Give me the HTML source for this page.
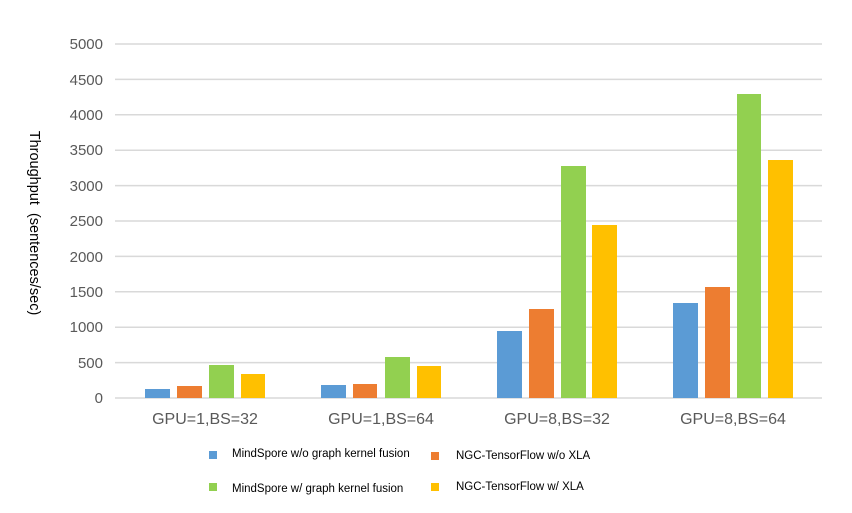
<!DOCTYPE html>
<html><head><style>
body{margin:0;background:#fff;}
svg{display:block;font-family:"Liberation Sans",sans-serif;}
</style></head><body>
<svg width="852" height="513" viewBox="0 0 852 513">
<rect width="852" height="513" fill="#fff"/>
<g stroke="#d9d9d9" stroke-width="1.5">
<line x1="115" x2="822" y1="44" y2="44"/>
<line x1="115" x2="822" y1="79.4" y2="79.4"/>
<line x1="115" x2="822" y1="114.8" y2="114.8"/>
<line x1="115" x2="822" y1="150.2" y2="150.2"/>
<line x1="115" x2="822" y1="185.6" y2="185.6"/>
<line x1="115" x2="822" y1="221" y2="221"/>
<line x1="115" x2="822" y1="256.4" y2="256.4"/>
<line x1="115" x2="822" y1="291.8" y2="291.8"/>
<line x1="115" x2="822" y1="327.2" y2="327.2"/>
<line x1="115" x2="822" y1="362.6" y2="362.6"/>
<line x1="115" x2="822" y1="398" y2="398"/>
</g>
<g fill="#595959" font-size="15" text-anchor="end">
<text x="103" y="49">5000</text><text x="103" y="85">4500</text><text x="103" y="120">4000</text>
<text x="103" y="155">3500</text><text x="103" y="191">3000</text><text x="103" y="226">2500</text>
<text x="103" y="262">2000</text><text x="103" y="297">1500</text><text x="103" y="332">1000</text>
<text x="103" y="368">500</text><text x="103" y="403">0</text>
</g>
<text transform="translate(30,223) rotate(90)" font-size="14.5" fill="#000" text-anchor="middle" xml:space="preserve">Throughput  (sentences/sec)</text>
<g>
<rect x="145" y="389" width="25" height="9" fill="#5b9bd5"/>
<rect x="177" y="386" width="25" height="12" fill="#ed7d31"/>
<rect x="209" y="365" width="25" height="33" fill="#92d050"/>
<rect x="241" y="374" width="24" height="24" fill="#ffc000"/>
<rect x="321" y="385" width="25" height="13" fill="#5b9bd5"/>
<rect x="353" y="384" width="24" height="14" fill="#ed7d31"/>
<rect x="385" y="357" width="25" height="41" fill="#92d050"/>
<rect x="417" y="366" width="24" height="32" fill="#ffc000"/>
<rect x="497" y="331" width="25" height="67" fill="#5b9bd5"/>
<rect x="529" y="309" width="25" height="89" fill="#ed7d31"/>
<rect x="561" y="166" width="25" height="232" fill="#92d050"/>
<rect x="592" y="225" width="25" height="173" fill="#ffc000"/>
<rect x="673" y="303" width="25" height="95" fill="#5b9bd5"/>
<rect x="705" y="287" width="25" height="111" fill="#ed7d31"/>
<rect x="737" y="94" width="24" height="304" fill="#92d050"/>
<rect x="768" y="160" width="25" height="238" fill="#ffc000"/>
</g>
<g fill="#595959" font-size="16" text-anchor="middle">
<text x="205" y="424">GPU=1,BS=32</text>
<text x="381" y="424">GPU=1,BS=64</text>
<text x="557" y="424">GPU=8,BS=32</text>
<text x="733" y="424">GPU=8,BS=64</text>
</g>
<g font-size="11.5" fill="#000">
<rect x="209" y="451" width="8" height="8" fill="#5b9bd5"/>
<text x="232" y="457">MindSpore w/o graph kernel fusion</text>
<rect x="431" y="452" width="8" height="8" fill="#ed7d31"/>
<text x="456" y="459">NGC-TensorFlow w/o XLA</text>
<rect x="209" y="483" width="8" height="8" fill="#92d050"/>
<text x="232" y="492">MindSpore w/ graph kernel fusion</text>
<rect x="431" y="483" width="8" height="8" fill="#ffc000"/>
<text x="456" y="490">NGC-TensorFlow w/ XLA</text>
</g>
</svg>
</body></html>
